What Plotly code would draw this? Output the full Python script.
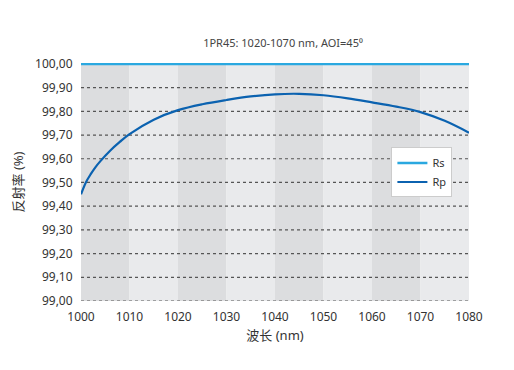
import plotly.graph_objects as go

wavelength = [1000, 1001, 1002, 1003, 1004, 1006, 1008, 1010, 1015, 1020, 1025, 1030, 1035, 1040,
              1045, 1050, 1055, 1060, 1065, 1070, 1075, 1080]
rp = [99.45, 99.50, 99.535, 99.565, 99.59, 99.634, 99.671, 99.704, 99.765, 99.805, 99.83, 99.848,
      99.863, 99.872, 99.874, 99.868, 99.855, 99.838, 99.82, 99.797, 99.76, 99.71]
rs_x = [1000, 1080]
rs = [100.0, 100.0]

title = "1PR45: 1020-1070 nm, AOI=45⁰"
x_title = "波长 (nm)"
y_title = "反射率 (%)"
x_ticks = [1000, 1010, 1020, 1030, 1040, 1050, 1060, 1070, 1080]
y_ticks = [99.0, 99.1, 99.2, 99.3, 99.4, 99.5, 99.6, 99.7, 99.8, 99.9, 100.0]
y_ticklabels = [f"{v:.2f}".replace(".", ",") for v in y_ticks]

FONT = "Noto Sans, Noto Sans CJK SC, sans-serif"

fig = go.Figure()

# alternating background bands
for i in range(len(x_ticks) - 1):
    fig.add_shape(type="rect", xref="x", yref="paper",
                  x0=x_ticks[i], x1=x_ticks[i + 1], y0=0, y1=1,
                  fillcolor="#dcdddf" if i % 2 == 0 else "#e9eaec",
                  line=dict(width=0), layer="below")

# dotted gridlines
for v in y_ticks[:-1]:
    fig.add_shape(type="line", xref="paper", yref="y", x0=0, x1=1, y0=v, y1=v,
                  line=dict(color="#555555", width=1.2, dash="dot"), layer="below")

fig.add_trace(go.Scatter(x=rs_x, y=rs, mode="lines", name="Rs",
                         line=dict(color="#2aa8e0", width=2.5)))
fig.add_trace(go.Scatter(x=wavelength, y=rp, mode="lines", name="Rp",
                         line=dict(color="#0b62b0", width=2.2, shape="spline", smoothing=1.0)))

fig.update_layout(
    width=514, height=370,
    margin=dict(l=73, r=53, t=55, b=77, autoexpand=False),
    paper_bgcolor="white", plot_bgcolor="white",
    font=dict(family=FONT, size=12, color="#333333"),
    title=dict(text=title, x=0.535, xanchor="center", y=0.905, yanchor="middle",
               font=dict(size=11, color="#444444")),
    showlegend=True,
    legend=dict(x=0.80, y=0.645, xanchor="left", yanchor="top",
                bgcolor="white", bordercolor="#cccccc", borderwidth=1,
                font=dict(size=11, color="#333333"), tracegroupgap=0,
                itemwidth=30),
    xaxis=dict(range=[1000, 1080], tickvals=x_ticks, showgrid=False, zeroline=False,
               showline=False, ticks="outside", ticklen=5, tickcolor="rgba(0,0,0,0)",
               tickfont=dict(size=12), automargin=False,
               title=dict(text=x_title, font=dict(size=13), standoff=6)),
    yaxis=dict(range=[99.0, 100.004], tickvals=y_ticks, ticktext=y_ticklabels,
               showgrid=False, zeroline=False, showline=False, ticks="outside",
               ticklen=5, tickcolor="rgba(0,0,0,0)", automargin=False,
               tickfont=dict(size=12),
               title=dict(text=y_title, font=dict(size=13), standoff=8)),
)

fig.write_html("out.html")
